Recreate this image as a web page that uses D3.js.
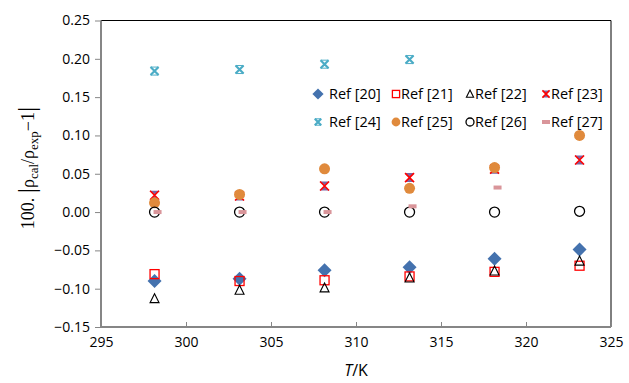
<!DOCTYPE html>
<html><head><meta charset="utf-8">
<script src="https://cdn.jsdelivr.net/npm/d3@7"></script>
<style>body{margin:0;background:#fff}svg{display:block}</style>
</head><body>
<svg id="c" width="629" height="383"></svg>
<script>
const temps = [298.15, 303.15, 308.15, 313.15, 318.15, 323.15];
const ref20 = [-0.090, -0.087, -0.076, -0.072, -0.061, -0.049];
const ref21 = [-0.081, -0.090, -0.089, -0.084, -0.078, -0.070];
const ref22 = [-0.113, -0.102, -0.099, -0.086, -0.077, -0.064];
const ref23 = [0.022, 0.021, 0.034, 0.045, 0.056, 0.068];
const ref24 = [0.184, 0.186, 0.193, 0.199];
const ref25 = [0.012, 0.023, 0.0565, 0.031, 0.058, 0.100];
const ref26 = [0.000, 0.000, 0.000, 0.000, 0.000, 0.001];
const ref27 = [0.000, 0.000, 0.000, 0.0075, 0.032];
const xTicks = [295, 300, 305, 310, 315, 320, 325];
const yTicks = [-0.15, -0.10, -0.05, 0.00, 0.05, 0.10, 0.15, 0.20, 0.25];
const seriesNames = ["Ref [20]","Ref [21]","Ref [22]","Ref [23]","Ref [24]","Ref [25]","Ref [26]","Ref [27]"];

const svg = d3.select("#c");
const L = 101, R = 611, T = 20.5, B = 327;
const x = d3.scaleLinear().domain([295, 325]).range([L, R]);
const y = d3.scaleLinear().domain([-0.15, 0.25]).range([B, T]);
const font = "'Open Sans', 'Liberation Sans', sans-serif";

svg.append("path").attr("d", `M${L},${T}H${R}V${B}`).attr("fill","none").attr("stroke","#000").attr("stroke-width",1);

const yAxis = svg.append("g").attr("transform", `translate(${L},0)`)
  .call(d3.axisLeft(y).tickValues(yTicks).tickSize(6).tickPadding(5)
    .tickFormat(d => d3.format(".2f")(d).replace("-", "\u2212")));
const xAxis = svg.append("g").attr("transform", `translate(0,${B})`)
  .call(d3.axisBottom(x).tickValues(xTicks).tickSizeInner(-5).tickSizeOuter(0).tickPadding(10).tickFormat(d3.format("d")));
[yAxis, xAxis].forEach(g => {
  g.select(".domain").attr("stroke","#868686").attr("stroke-width",2);
  g.selectAll(".tick line").attr("stroke","#868686").attr("stroke-width",1);
  g.selectAll("text").attr("fill","#000").style("font-family", font).style("font-size","14px");
});
yAxis.select(".domain").attr("d", `M0,${B}V${T}`);
xAxis.select(".domain").attr("d", `M${L},0H${R}`);
xAxis.selectAll("text").attr("dy","0.71em");

const xt = svg.append("text").attr("x", 356).attr("y", 376).attr("text-anchor","middle")
  .style("font-family", font).style("font-size","16px");
xt.append("tspan").attr("font-style","italic").text("T");
xt.append("tspan").text("/K");

const yt = svg.append("text").attr("transform","translate(34,168) rotate(-90)").attr("text-anchor","middle")
  .style("font-family","'Liberation Serif', 'DejaVu Serif', serif").style("font-size","18px");
yt.append("tspan").text("100. ");
yt.append("tspan").attr("font-size","26px").attr("dy","1").text("|");
yt.append("tspan").attr("dy","-1").text("\u03C1");
yt.append("tspan").attr("font-size","13px").attr("dy","4").text("cal");
yt.append("tspan").attr("dy","-4").text("/\u03C1");
yt.append("tspan").attr("font-size","13px").attr("dy","4").text("exp");
yt.append("tspan").attr("dy","-4").text("\u22121");
yt.append("tspan").attr("font-size","26px").attr("dy","1").text("|");

function mk(g, type, cx, cy, s) {
  s = s || 1;
  switch (type) {
    case 0: { const d = 7*s; g.append("path").attr("d", `M${cx},${cy-d}L${cx+d},${cy}L${cx},${cy+d}L${cx-d},${cy}Z`).attr("fill","#4472AE"); break; }
    case 1: { const d = 4.5*s; g.append("rect").attr("x",cx-d).attr("y",cy-d).attr("width",2*d).attr("height",2*d).attr("fill","none").attr("stroke","#FF0000").attr("stroke-width",1.3); break; }
    case 2: g.append("path").attr("d", `M${cx},${cy-5*s}L${cx+4.5*s},${cy+4*s}L${cx-4.5*s},${cy+4*s}Z`).attr("fill","none").attr("stroke","#000").attr("stroke-width",1.1); break;
    case 3: {
      const d = 4.5*s;
      g.append("path").attr("d", `M${cx-d},${cy-d}L${cx+d},${cy-d}L${cx},${cy}L${cx+d},${cy+d}L${cx-d},${cy+d}L${cx},${cy}Z`).attr("fill","#7F64A2");
      g.append("path").attr("d", `M${cx-d},${cy-d}L${cx+d},${cy+d}M${cx+d},${cy-d}L${cx-d},${cy+d}`).attr("stroke","#FF0000").attr("stroke-width",1.6);
      break; }
    case 4: {
      const d = 4*s;
      g.append("path").attr("d", `M${cx-d},${cy-d}L${cx+d},${cy+d}M${cx+d},${cy-d}L${cx-d},${cy+d}`).attr("stroke","#4BACC6").attr("stroke-width",2.2);
      g.append("path").attr("d", `M${cx-d},${cy-d}H${cx+d}M${cx-d},${cy+d}H${cx+d}`).attr("stroke","#4BACC6").attr("stroke-width",1);
      break; }
    case 5: g.append("circle").attr("cx",cx).attr("cy",cy).attr("r",5.5*s).attr("fill","#E08A3C"); break;
    case 6: g.append("circle").attr("cx",cx).attr("cy",cy).attr("r",5*s).attr("fill","none").attr("stroke","#000").attr("stroke-width",1.3); break;
    case 7: g.append("rect").attr("x",cx-1).attr("y",cy-2).attr("width",8).attr("height",4).attr("fill","#D9959A"); break;
  }
}

const allSeries = [ref20, ref21, ref22, ref23, ref24, ref25, ref26, ref27];
const pts = svg.append("g");
allSeries.forEach((ser, si) => {
  ser.forEach((v, i) => mk(pts.append("g"), si, x(temps[i]), y(v)));
});

const legX = [318, 396, 470, 546];
const legTX = [329, 401, 475, 551];
const legY = [94, 122];
const leg = svg.append("g");
seriesNames.forEach((n, i) => {
  const r = Math.floor(i / 4), c = i % 4;
  mk(leg.append("g"), i, legX[c] + (i === 7 ? -3 : 0), legY[r], 0.8);
  leg.append("text").attr("x", legTX[c]).attr("y", legY[r]).attr("dy","0.35em")
    .style("font-family", font).style("font-size","14.5px").text(n);
});
</script>
</body></html>
